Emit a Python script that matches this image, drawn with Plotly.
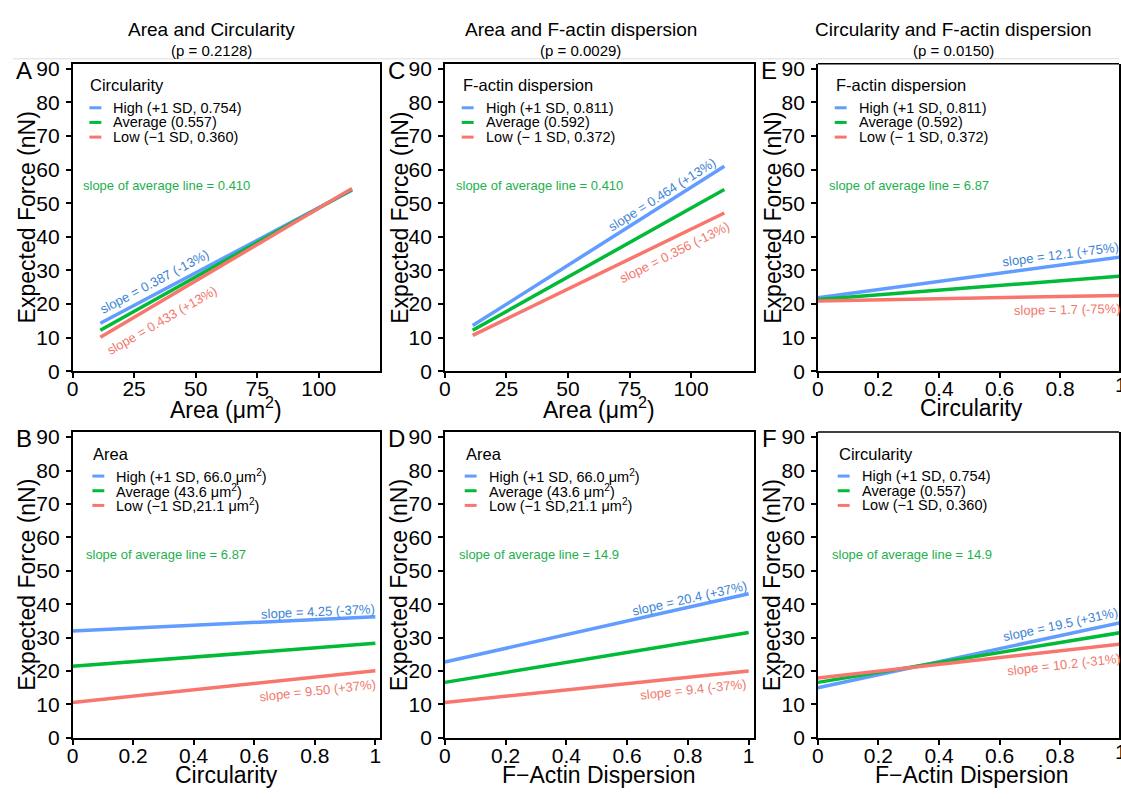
import plotly.graph_objects as go

W, H = 1121, 799

# ---------------- data ----------------
area_x = [11.3, 113.5]          # Area (um^2) span of fitted lines
unit_x = [0.0, 1.0]             # Circularity / F-actin dispersion span

# Panel A: force vs area, by circularity level
A_high = [14.3, 53.9]
A_avg = [12.2, 54.1]
A_low = [10.1, 54.4]
# Panel C: force vs area, by F-actin dispersion level
C_high = [13.6, 61.0]
C_avg = [12.2, 54.1]
C_low = [10.7, 47.1]
# Panel E: force vs circularity, by F-actin dispersion level
E_high = [21.9, 34.0]
E_avg = [21.4, 28.3]
E_low = [20.9, 22.6]
# Panel B: force vs circularity, by area level
B_high = [32.0, 36.25]
B_avg = [21.4, 28.3]
B_low = [10.6, 20.1]
# Panel D: force vs F-actin dispersion, by area level
D_high = [22.7, 43.1]
D_avg = [16.6, 31.5]
D_low = [10.6, 20.0]
# Panel F: force vs F-actin dispersion, by circularity level
F_high = [15.0, 34.5]
F_avg = [16.6, 31.5]
F_low = [17.9, 28.1]

col_titles = ["Area and Circularity", "Area and F-actin dispersion", "Circularity and F-actin dispersion"]
col_pvals = ["(p = 0.2128)", "(p = 0.0029)", "(p = 0.0150)"]

legend_circ = ["High (+1 SD, 0.754)", "Average (0.557)", "Low (\u22121 SD, 0.360)"]
legend_fact = ["High (+1 SD, 0.811)", "Average (0.592)", "Low (\u2212 1 SD, 0.372)"]
legend_area = ["High (+1 SD, 66.0 \u03bcm<sup>2</sup>)", "Average (43.6 \u03bcm<sup>2</sup>)",
               "Low (\u22121 SD,21.1 \u03bcm<sup>2</sup>)"]

avg_slope_text = {"A": "0.410", "C": "0.410", "E": "6.87", "B": "6.87", "D": "14.9", "F": "14.9"}
slope_labels = {
    "A": ["slope = 0.387 (-13%)", "slope = 0.433 (+13%)"],
    "C": ["slope = 0.464 (+13%)", "slope = 0.356 (-13%)"],
    "E": ["slope = 12.1 (+75%)", "slope = 1.7 (-75%)"],
    "B": ["slope = 4.25 (-37%)", "slope = 9.50 (+37%)"],
    "D": ["slope = 20.4 (+37%)", "slope = 9.4 (-37%)"],
    "F": ["slope = 19.5 (+31%)", "slope = 10.2 (-31%)"],
}

area_ticks = [0, 25, 50, 75, 100]
unit_ticks = [0, 0.2, 0.4, 0.6, 0.8, 1]
unit_ticktext = ["0", "0.2", "0.4", "0.6", "0.8", "1"]
y_ticks = [0, 10, 20, 30, 40, 50, 60, 70, 80, 90]

BLUE, GREEN, RED = "#619CFF", "#00BA38", "#F8766D"
BLUE_T, GREEN_T, RED_T = "#3D84D6", "#1DB04E", "#F2776C"
FONT = "Liberation Sans, Arial, Helvetica, sans-serif"

# ---------------- layout geometry (pixels) ----------------
panels = {
    "A": dict(n="", L=67, R=377, T=58.1, B=372.7, xr=[0, 125], x=area_x, xt="Area (\u03bcm<sup>2</sup>)",
              data=(A_high, A_avg, A_low), leg=("Circularity", legend_circ), ticks="area",
              s1=(150, 281, -28), s2=(157, 321, -30)),
    "C": dict(n="2", L=442, R=753, T=58.1, B=372.7, xr=[0, 125.4], x=area_x, xt="Area (\u03bcm<sup>2</sup>)",
              data=(C_high, C_avg, C_low), leg=("F-actin dispersion", legend_fact), ticks="area",
              s1=(661, 192, -32.5), s2=(673, 251, -26.5)),
    "E": dict(n="3", L=817.7, R=1121, T=58.1, B=372.7, xr=[0, (1121 - 817.7) / 305], x=unit_x, xt="Circularity",
              data=(E_high, E_avg, E_low), leg=("F-actin dispersion", legend_fact), ticks="unit",
              s1=(1062, 253, -7.5), s2=(1069, 309, -1), full_right=1128),
    "B": dict(n="4", L=67, R=377, T=434.9, B=747.7, xr=[0, 1.0164], x=unit_x, xt="Circularity",
              data=(B_high, B_avg, B_low), leg=("Area", legend_area), ticks="unit",
              s1=(314, 618, -2.7), s2=(314, 699, -6.3)),
    "D": dict(n="5", L=442, R=753, T=434.9, B=747.7, xr=[0, 1.0164], x=unit_x, xt="F\u2212Actin Dispersion",
              data=(D_high, D_avg, D_low), leg=("Area", legend_area), ticks="unit",
              s1=(688, 605, -12.8), s2=(692, 698, -6.2)),
    "F": dict(n="6", L=817.7, R=1121, T=434.9, B=747.7, xr=[0, (1121 - 817.7) / 305], x=unit_x,
              xt="F\u2212Actin Dispersion",
              data=(F_high, F_avg, F_low), leg=("Circularity", legend_circ), ticks="unit",
              s1=(1062, 632, -12.3), s2=(1066, 673, -6.5), full_right=1128),
}


def px(p):
    return p / W


def py(p):
    return 1 - p / H


fig = go.Figure()
annotations = []
shapes = []


def ann(text, x, y, size, color="black", angle=0, xanchor="center", family=FONT):
    annotations.append(dict(text=text, x=px(x), y=py(y), xref="paper", yref="paper", showarrow=False,
                            font=dict(size=size, color=color, family=family), textangle=angle,
                            xanchor=xanchor, yanchor="middle"))


axis_common = dict(showline=True, mirror=True, linecolor="black", linewidth=1.5, ticks="outside",
                   ticklen=5, tickwidth=1.5, tickcolor="black", showgrid=False, zeroline=False,
                   tickfont=dict(size=21, family=FONT, color="black"), fixedrange=True)

for key, p in panels.items():
    n = p["n"]
    xa, ya = "x" + n, "y" + n
    xname, yname = "xaxis" + n, "yaxis" + n
    for vals, color, name in zip(p["data"], (BLUE, GREEN, RED), ("High", "Average", "Low")):
        fig.add_trace(go.Scatter(x=p["x"], y=vals, mode="lines", line=dict(color=color, width=3.5),
                                 xaxis=xa, yaxis=ya, name=name, showlegend=False, hoverinfo="skip"))
    xaxis = dict(axis_common, domain=[px(p["L"]), px(p["R"])], range=p["xr"], anchor=ya,
                 ticklabelstandoff=-7)
    if p["ticks"] == "area":
        xaxis.update(tickvals=area_ticks)
    else:
        xaxis.update(tickvals=unit_ticks, ticktext=unit_ticktext)
    if "full_right" in p:
        xaxis.update(mirror=False)
    yaxis = dict(axis_common, domain=[py(p["B"]), py(p["T"])], range=[0, 91.5], anchor=xa, tickvals=y_ticks,
                 ticklabelstandoff=2)
    fig.update_layout(**{xname: xaxis, yname: yaxis})

    right_full = p.get("full_right", p["R"])
    if "full_right" in p:
        # top frame line for clipped panels
        shapes.append(dict(type="line", xref="paper", yref="paper", x0=px(p["L"]), x1=1.0,
                           y0=py(p["T"]), y1=py(p["T"]), line=dict(color="black", width=1.5)))
        # tick label "1" partially cut by the figure edge
        ann("1", p["L"] + 305, p["B"] + 14, 21)
    # axis titles
    ann(p["xt"], (p["L"] + right_full) / 2, p["B"] + 38, 23)
    ann("Expected Force (nN)", p["L"] - 46, (p["T"] + p["B"]) / 2, 23, angle=-90)
    # panel letter
    ann(key, p["L"] - 49, p["T"] + 7, 24)
    # legend
    title, entries = p["leg"]
    lo = 17 if p["T"] < 100 else 20
    ann(title, p["L"] + lo - 1, p["T"] + 22, 16.5, xanchor="left")
    for i, (txt, color) in enumerate(zip(entries, (BLUE, GREEN, RED))):
        yy = p["T"] + 45 + 15 * i
        shapes.append(dict(type="line", xref="paper", yref="paper", x0=px(p["L"] + lo), x1=px(p["L"] + lo + 12),
                           y0=py(yy), y1=py(yy), line=dict(color=color, width=3)))
        ann(txt, p["L"] + lo + 22, yy, 14.5, xanchor="left")
    # average slope label
    ann("slope of average line = " + avg_slope_text[key], p["L"] + 9 + (3 if p["T"] > 100 else 0),
        p["T"] + 125, 13, GREEN_T, xanchor="left")
    # slope labels along lines
    (x1, y1, a1), (x2, y2, a2) = p["s1"], p["s2"]
    ann(slope_labels[key][0], x1, y1, 13, BLUE_T, angle=a1)
    ann(slope_labels[key][1], x2, y2, 13, RED_T, angle=a2)

# column titles
for cx, t, pv in zip([207, 579, 954], col_titles, col_pvals):
    ann(t, cx, 23, 19)
    ann(pv, cx, 44, 15)

# thin separator line under titles
shapes.append(dict(type="line", xref="paper", yref="paper", x0=px(7), x1=1.0, y0=py(53), y1=py(53),
                   line=dict(color="#DDDDDD", width=1)))

fig.update_layout(width=W, height=H, margin=dict(l=0, r=0, t=0, b=0), paper_bgcolor="white",
                  plot_bgcolor="white", annotations=annotations, shapes=shapes, showlegend=False,
                  font=dict(family=FONT, color="black"))

fig.write_html("out.html", config={"displayModeBar": False})
